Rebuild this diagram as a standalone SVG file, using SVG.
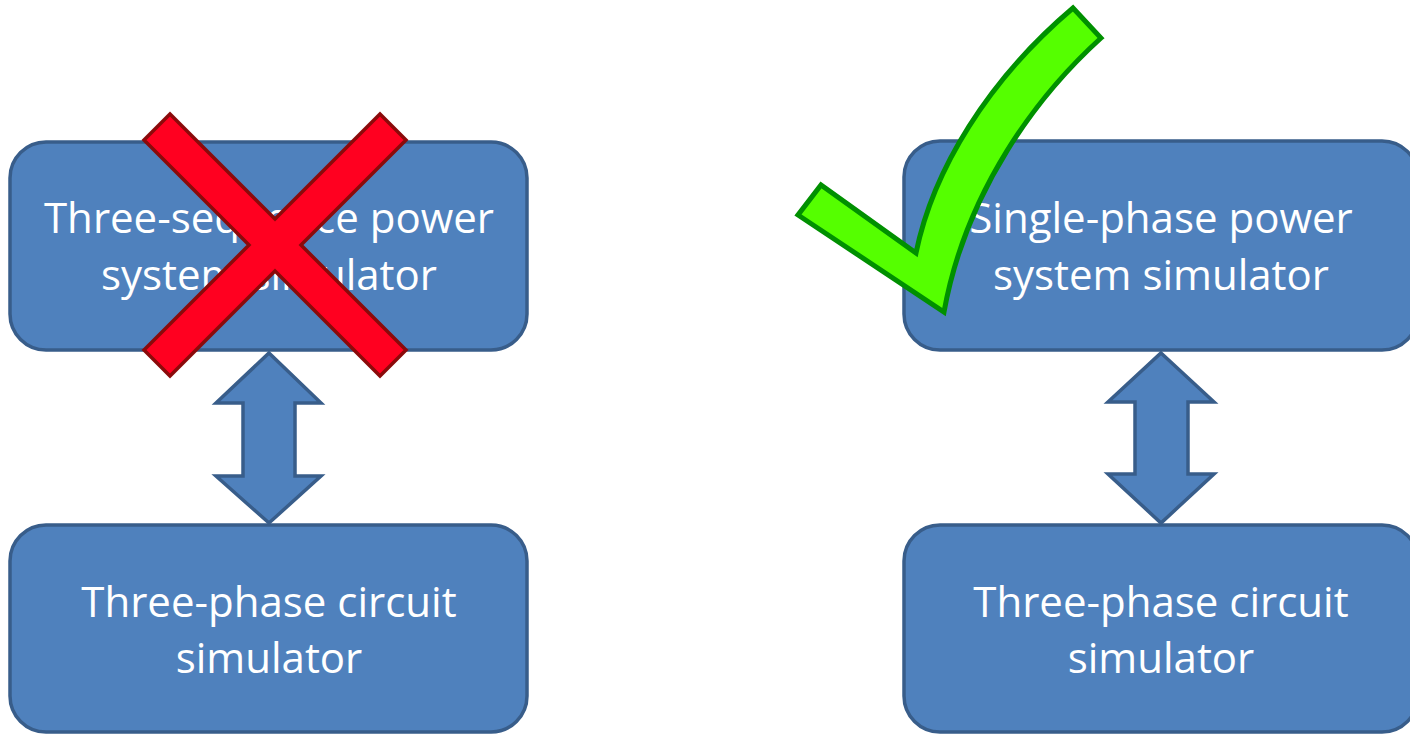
<svg xmlns="http://www.w3.org/2000/svg" width="1410" height="734" viewBox="0 0 1410 734">
<style>
.box{fill:#4F81BD;stroke:#385D8A;stroke-width:3.5}
.lbl{fill:#FFFFFF;font-family:"Open Sans","Liberation Sans",sans-serif;font-size:42px;text-anchor:middle}
.arr{fill:#4F81BD;stroke:#385D8A;stroke-width:3.5;stroke-linejoin:miter}
</style>
<rect width="1410" height="734" fill="#FFFFFF"/>
<g id="left-top">
<rect class="box" x="10" y="142" width="517" height="208" rx="36" ry="36"/>
<text class="lbl" x="269" y="233">Three-sequence power</text>
<text class="lbl" x="269" y="290">system simulator</text>
</g>
<g id="left-bottom">
<rect class="box" x="10" y="525" width="517" height="207" rx="36" ry="36"/>
<text class="lbl" x="269" y="617">Three-phase circuit</text>
<text class="lbl" x="269" y="673">simulator</text>
</g>
<g id="right-top">
<rect class="box" x="904" y="141" width="514" height="209" rx="36" ry="36"/>
<text class="lbl" x="1161" y="233">Single-phase power</text>
<text class="lbl" x="1161" y="290">system simulator</text>
</g>
<g id="right-bottom">
<rect class="box" x="904" y="525" width="514" height="207" rx="36" ry="36"/>
<text class="lbl" x="1161" y="617">Three-phase circuit</text>
<text class="lbl" x="1161" y="673">simulator</text>
</g>
<g id="connectors">
<path class="arr" d="M269,353 L321,403 L295,403 L295,476 L321,476 L269,523 L216,476 L243,476 L243,403 L216,403 Z"/>
<path class="arr" d="M1161,353 L1214,402 L1188,402 L1188,474 L1214,474 L1161,523 L1108,474 L1135,474 L1135,402 L1108,402 Z"/>
</g>
<g id="cross">
<path d="M144,140 L170,114 L275,219 L380,114 L406,140 L301,245 L406,350 L380,376 L275,271 L170,376 L144,350 L249,245 Z" fill="#FF0020" stroke="#8B0A0A" stroke-width="3.5" stroke-linejoin="miter"/>
</g>
<g id="check">
<path d="M1073,8 L1101,38 C1038,95 966,190 944,312 L798,215 L821,185 L916,253 C933,170 988,80 1073,8 Z" fill="#55FF00" stroke="#009000" stroke-width="5" stroke-linejoin="miter"/>
</g>
</svg>
